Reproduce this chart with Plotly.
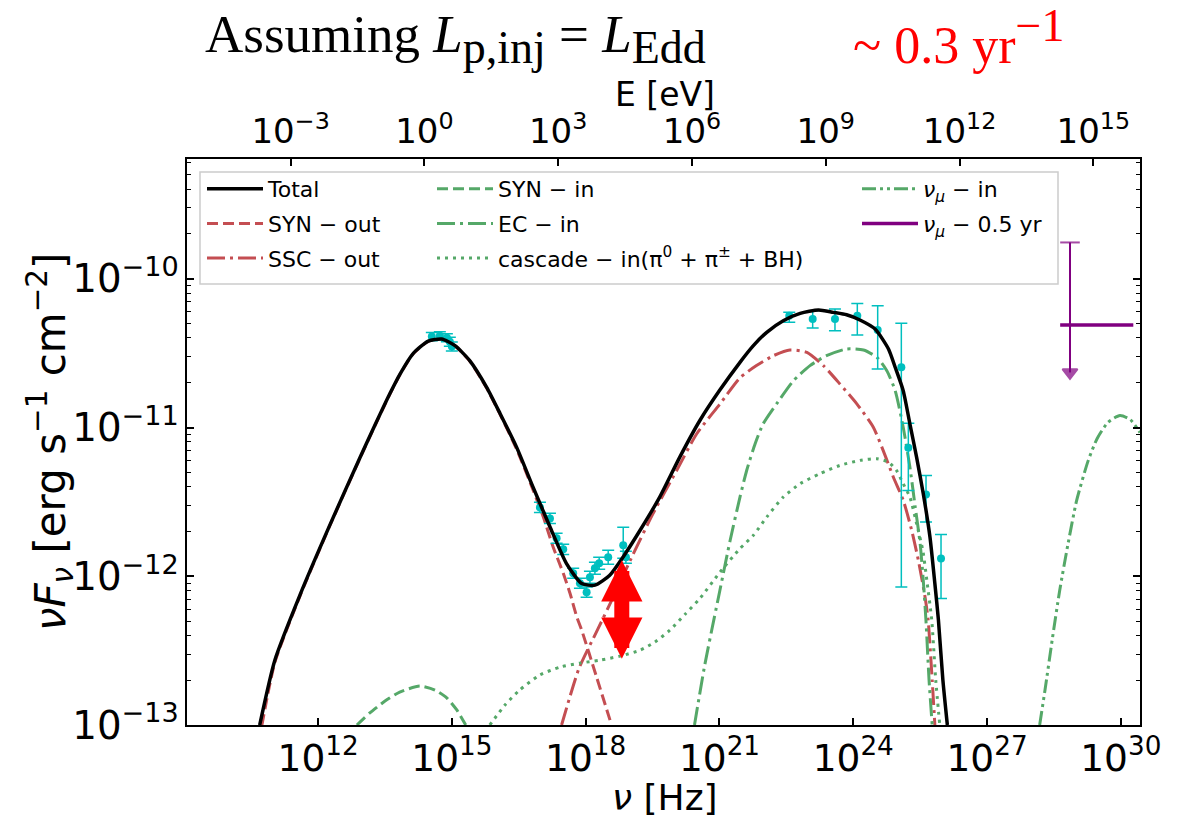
import numpy as np
import plotly.graph_objects as go

H_EV_S = 4.135667696e-15  # Planck constant [eV s]

# ---------------- model curves: log10(nu/Hz), log10(nuFnu) ----------------
total_lognu = [10.69, 11.03, 11.59, 12.26, 12.93, 13.27, 13.61, 13.83, 14.13, 14.47, 14.77,
               15.07, 15.40, 15.78, 16.08, 16.45, 16.82, 17.20, 17.57, 17.91, 18.21,
               18.54, 18.84, 19.22, 19.66, 20.11, 20.56, 21.00, 21.46, 21.76, 22.06,
               22.43, 22.81, 23.22, 23.55, 23.85, 24.15, 24.49, 24.79, 24.94, 25.12,
               25.27, 25.42, 25.57, 25.72, 25.83, 25.91, 26.01, 26.11]
total_logF = [-13.0, -12.564, -12.128, -11.658, -11.208, -10.987, -10.772, -10.644, -10.503, -10.419, -10.405,
              -10.450, -10.550, -10.730, -10.906, -11.132, -11.401, -11.669, -11.915, -12.049, -12.060,
              -11.993, -11.870, -11.691, -11.468, -11.199, -10.953, -10.752, -10.562, -10.450, -10.360,
              -10.282, -10.233, -10.210, -10.226, -10.242, -10.277, -10.338, -10.472, -10.595, -10.752,
              -10.975, -11.199, -11.445, -11.736, -12.049, -12.295, -12.698, -13.0]

syn_out_lognu = [10.74, 11.03, 11.59, 12.26, 12.93, 13.27, 13.61, 13.83, 14.13, 14.47, 14.77,
                 15.07, 15.40, 15.78, 16.08, 16.45, 16.82, 17.05, 17.27, 17.50, 17.65,
                 17.80, 17.91, 18.23, 18.58]
syn_out_logF = [-13.0, -12.58, -12.135, -11.662, -11.212, -10.99, -10.776, -10.647, -10.505, -10.421, -10.407,
                -10.452, -10.553, -10.735, -10.912, -11.145, -11.42, -11.602, -11.803, -11.982, -12.116,
                -12.273, -12.362, -12.664, -13.0]

ssc_out_lognu = [17.46, 17.85, 18.28, 18.62, 19.07, 19.51, 20.04, 20.49, 21.00, 21.46,
                 21.83, 22.21, 22.58, 22.96, 23.33, 23.70, 24.08, 24.45, 24.67, 24.90,
                 25.12, 25.31, 25.46, 25.61, 25.68, 25.77, 25.83]
ssc_out_logF = [-13.0, -12.62, -12.351, -12.139, -11.848, -11.579, -11.289, -11.042, -10.846, -10.666,
                -10.584, -10.517, -10.479, -10.495, -10.584, -10.707, -10.841, -10.998, -11.154, -11.334,
                -11.488, -11.691, -11.893, -12.139, -12.295, -12.698, -13.0]

syn_in_lognu = [12.87, 13.16, 13.50, 13.83, 14.28, 14.62, 14.89, 15.11, 15.31]
syn_in_logF = [-13.0, -12.919, -12.839, -12.779, -12.738, -12.765, -12.819, -12.899, -13.0]

ec_in_lognu = [20.44, 20.67, 21.01, 21.24, 21.46, 21.61, 21.80, 21.98, 22.28, 22.66,
               23.03, 23.40, 23.85, 24.23, 24.53, 24.75, 24.94, 25.12, 25.27, 25.39,
               25.50, 25.57, 25.63, 25.70, 25.77]
ec_in_logF = [-13.0, -12.597, -12.094, -11.758, -11.468, -11.289, -11.109, -10.975, -10.841, -10.685,
              -10.584, -10.517, -10.472, -10.479, -10.528, -10.617, -10.752, -10.998, -11.266, -11.535,
              -11.781, -12.027, -12.295, -12.698, -13.0]

cascade_lognu = [15.85, 16.19, 16.52, 16.97, 17.42, 17.87, 18.32, 18.77, 19.22, 19.55,
                 19.89, 20.23, 20.56, 21.01, 21.46, 21.76, 22.06, 22.43, 22.81, 23.25,
                 23.70, 24.15, 24.53, 24.79, 24.97, 25.12, 25.27, 25.42, 25.56, 25.65,
                 25.76, 25.85, 25.94]
cascade_logF = [-13.0, -12.866, -12.765, -12.664, -12.611, -12.584, -12.564, -12.537, -12.497, -12.443,
                -12.362, -12.255, -12.150, -11.973, -11.814, -11.725, -11.602, -11.468, -11.378, -11.311,
                -11.255, -11.221, -11.210, -11.233, -11.289, -11.378, -11.468, -11.646, -11.826, -12.027,
                -12.295, -12.698, -13.0]

numu_in_lognu = [28.18, 28.30, 28.46, 28.63, 28.81, 29.01, 29.27, 29.47, 29.71, 29.98, 30.21, 30.43]
numu_in_logF = [-13.0, -12.765, -12.430, -12.094, -11.792, -11.490, -11.221, -11.074, -10.966, -10.919, -10.946, -11.034]

# ---------------- observed data ----------------
opt_lognu = [14.55, 14.73, 14.887, 14.954, 14.999]
opt_logF = [-10.389, -10.383, -10.396, -10.423, -10.456]
opt_err = [0.027, 0.027, 0.027, 0.03, 0.03]

xray_lognu = [16.974, 17.199, 17.348, 17.496, 17.720, 17.871, 18.021, 18.095, 18.207, 18.303, 18.505, 18.842, 18.902]
xray_logF = [-11.537, -11.611, -11.745, -11.819, -11.980, -12.047, -12.107, -12.007, -11.946, -11.913, -11.872, -11.792, -11.872]
xray_err_up = [0.034, 0.034, 0.034, 0.034, 0.034, 0.034, 0.034, 0.040, 0.040, 0.040, 0.047, 0.121, 0.040]
xray_err_dn = [0.034, 0.034, 0.034, 0.034, 0.034, 0.034, 0.034, 0.040, 0.040, 0.040, 0.047, 0.087, 0.040]

gam_lognu = [22.565, 23.090, 23.590, 24.091, 24.548, 25.078, 25.235, 25.632, 25.968]
gam_logF = [-10.248, -10.270, -10.270, -10.248, -10.344, -10.595, -11.136, -11.450, -11.881]
gam_logF_hi = [-10.226, -10.215, -10.203, -10.166, -10.181, -10.300, -10.971, -11.322, -11.720]
gam_logF_lo = [-10.293, -10.331, -10.349, -10.378, -10.606, -12.072, -11.423, -11.636, -12.150]

# neutrino upper limit (0.5 yr)
ul_lognu = 28.86
ul_lognu_lo = 28.64
ul_lognu_hi = 30.28
ul_logF = -10.311
ul_logF_top = -9.756
ul_logF_tip = -10.63

# axes ranges (log10) and tick labels
xrange_log = [9.06, 30.43]
yrange_log = [-13.0, -9.195]
e_tick_exp = [-3, 0, 3, 6, 9, 12, 15]

RED = "#C44E52"
GREEN = "#55A868"
CYAN = "#00BFBF"
PURPLE = "#800080"
FONT = "DejaVu Sans"


def p(a):
    return np.power(10.0, np.array(a, dtype=float))


fig = go.Figure()

def curve(lx, ly, name, color, width, dash, legend, rank):
    fig.add_trace(go.Scatter(
        x=p(lx), y=p(ly), mode="lines", name=name,
        line=dict(color=color, width=width, dash=dash, shape="spline", smoothing=0.6),
        legend=legend, legendgroup=name, legendrank=rank, hoverinfo="skip"))

curve(syn_out_lognu, syn_out_logF, "SYN − out", RED, 3, "11px,5px", "legend", 2)
curve(ssc_out_lognu, ssc_out_logF, "SSC − out", RED, 3, "18px,5px,3px,5px", "legend", 3)
curve(syn_in_lognu, syn_in_logF, "SYN − in", GREEN, 3, "11px,5px", "legend2", 4)
curve(ec_in_lognu, ec_in_logF, "EC − in", GREEN, 3, "18px,5px,3px,5px", "legend2", 5)
curve(cascade_lognu, cascade_logF, "cascade − in(π<sup>0</sup> + π<sup>±</sup> + BH)", GREEN, 3, "3px,5px", "legend2", 6)
curve(numu_in_lognu, numu_in_logF, "<i>ν<sub>μ</sub></i> − in", GREEN, 3, "14px,4px,3px,4px,3px,4px", "legend3", 7)

# data points
def errpts(lx, ly, up, dn):
    y = p(ly)
    return dict(type="data", symmetric=False,
                array=p(np.array(ly) + np.array(up)) - y,
                arrayminus=y - p(np.array(ly) - np.array(dn)),
                color=CYAN, thickness=1.5, width=6)

fig.add_trace(go.Scatter(x=p(opt_lognu), y=p(opt_logF), mode="markers",
                         marker=dict(color=CYAN, size=8),
                         error_y=errpts(opt_lognu, opt_logF, opt_err, opt_err),
                         showlegend=False, hoverinfo="skip"))
fig.add_trace(go.Scatter(x=p(xray_lognu), y=p(xray_logF), mode="markers",
                         marker=dict(color=CYAN, size=8),
                         error_y=errpts(xray_lognu, xray_logF, xray_err_up, xray_err_dn),
                         showlegend=False, hoverinfo="skip"))
gam_up = np.array(gam_logF_hi) - np.array(gam_logF)
gam_dn = np.array(gam_logF) - np.array(gam_logF_lo)
fig.add_trace(go.Scatter(x=p(gam_lognu), y=p(gam_logF), mode="markers",
                         marker=dict(color=CYAN, size=8),
                         error_y=errpts(gam_lognu, gam_logF, gam_up, gam_dn),
                         showlegend=False, hoverinfo="skip"))

# total on top
curve(total_lognu, total_logF, "Total", "black", 3.5, "solid", "legend", 1)

# neutrino upper limit
fig.add_trace(go.Scatter(x=p([ul_lognu_lo, ul_lognu_hi]), y=p([ul_logF, ul_logF]), mode="lines",
                         line=dict(color=PURPLE, width=3.5), name="<i>ν<sub>μ</sub></i> − 0.5 yr",
                         legend="legend3", legendgroup="ul", legendrank=8, hoverinfo="skip"))
fig.add_trace(go.Scatter(x=p([ul_lognu, ul_lognu]), y=p([ul_logF_top, ul_logF_tip]), mode="lines+markers",
                         line=dict(color=PURPLE, width=2),
                         marker=dict(symbol=["line-ew", "triangle-down"], size=[14, 13], color=PURPLE,
                                     line=dict(color=PURPLE, width=2)),
                         showlegend=False, hoverinfo="skip"))

# invisible trace carrying the energy axis
fig.add_trace(go.Scatter(x=p(gam_lognu) * H_EV_S, y=p(gam_logF), xaxis="x2", mode="markers",
                         marker=dict(opacity=0), showlegend=False, hoverinfo="skip"))

# red double arrow
fig.add_annotation(x=18.81, y=-11.893, ax=0, ay=100, xref="x", yref="y", axref="pixel", ayref="pixel",
                   text="", showarrow=True, arrowhead=2, startarrowhead=2, arrowside="end+start",
                   arrowwidth=15, arrowsize=0.55, startarrowsize=0.55, arrowcolor="#FF0000",
                   standoff=0, startstandoff=0)

L, R, T, B = 187, 38, 159, 93
W, Hh = 1178, 818
pw, ph = W - L - R, Hh - T - B

def px(xp):
    return (xp - L) / pw

def py(yp):
    return (Hh - B - yp) / ph

axis_common = dict(type="log", showgrid=False, zeroline=False, showline=True, linecolor="black",
                   linewidth=2, ticks="inside", ticklen=7, tickwidth=1.6, tickcolor="black",
                   exponentformat="power", tickfont=dict(family=FONT, size=30, color="black"))

fig.update_layout(
    width=W, height=Hh, margin=dict(l=L, r=R, t=T, b=B, autoexpand=False),
    paper_bgcolor="white", plot_bgcolor="white",
    xaxis=dict(axis_common, range=xrange_log, dtick=3, mirror=False),
    xaxis2=dict(axis_common, range=[xrange_log[0] + np.log10(H_EV_S), xrange_log[1] + np.log10(H_EV_S)],
                tickmode="array", tickvals=p(e_tick_exp),
                ticktext=["10<sup>%s</sup>" % str(e).replace("-", "−") for e in e_tick_exp],
                tickfont=dict(family=FONT, size=34, color="black"),
                overlaying="x", side="top", anchor="y"),
    yaxis=dict(axis_common, range=yrange_log, dtick=1, mirror="ticks",
               tickfont=dict(family=FONT, size=31, color="black"),
               minor=dict(ticks="inside", ticklen=4, tickwidth=1.2, tickcolor="black", dtick="D1")),
    showlegend=True,
)

leg_common = dict(bgcolor="rgba(0,0,0,0)", borderwidth=0, font=dict(family=FONT, size=22, color="black"),
                  xanchor="left", yanchor="top", orientation="v", tracegroupgap=3, itemwidth=56,
                  traceorder="grouped")
fig.update_layout(
    legend=dict(leg_common, x=px(202), y=py(168)),
    legend2=dict(leg_common, x=px(432), y=py(168)),
    legend3=dict(leg_common, x=px(857), y=py(168)),
)

# legend frame
fig.add_shape(type="rect", xref="paper", yref="paper", x0=px(200), x1=px(1058), y0=py(284), y1=py(172),
              line=dict(color="#CCCCCC", width=1.5), fillcolor="rgba(255,255,255,0.8)", layer="above")

# texts
def label(xp, yp, text, family, size, color="black", angle=0):
    fig.add_annotation(x=px(xp), y=py(yp), xref="paper", yref="paper", showarrow=False,
                       xanchor="center", yanchor="middle", text=text, textangle=angle,
                       font=dict(family=family, size=size, color=color))

label(455, 39, "Assuming <i>L</i><sub><span style='font-size:46px'>p,inj</span></sub> = "
               "<i>L</i><sub><span style='font-size:46px'>Edd</span></sub>", "Liberation Serif", 53)
label(958, 37, "~ 0.3 yr<sup><span style='font-size:46px'>−1</span></sup>", "Liberation Serif", 52, "#FF0000")
label(665, 94, "E [eV]", FONT, 33)
label(665, 797, "<i>ν</i> [Hz]", FONT, 36)
label(50, 442, "<i>νF<sub>ν</sub></i> [erg s<sup>−1</sup> cm<sup>−2</sup>]", FONT, 42, angle=-90)

fig.write_html("out.html")
